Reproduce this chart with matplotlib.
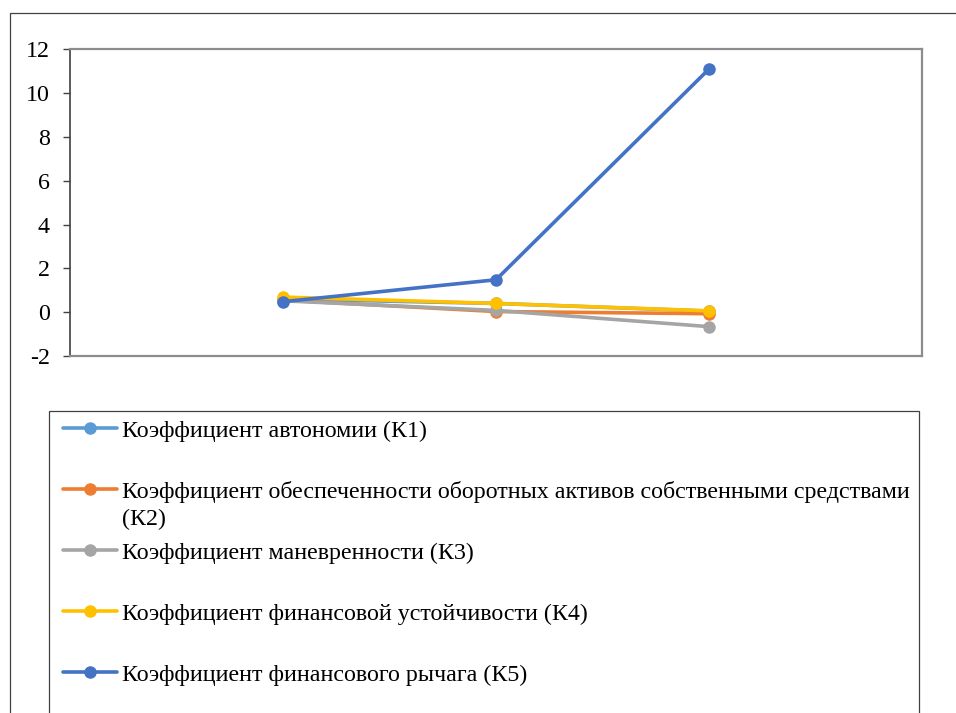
import matplotlib.pyplot as plt
from matplotlib.lines import Line2D
from matplotlib.patches import Rectangle

plt.rcParams['font.family'] = ['Liberation Serif', 'DejaVu Serif']
plt.rcParams['axes.unicode_minus'] = False

# three reporting periods, plotted at category positions 1..3
periods = [1, 2, 3]

k1 = [0.60, 0.40, 0.05]
k2 = [0.55, 0.03, -0.07]
k3 = [0.52, 0.08, -0.66]
k4 = [0.69, 0.40, 0.06]
k5 = [0.48, 1.48, 11.1]

labels = [
    "Коэффициент автономии (К1)",
    "Коэффициент обеспеченности оборотных активов собственными средствами\n(К2)",
    "Коэффициент маневренности (К3)",
    "Коэффициент финансовой устойчивости (К4)",
    "Коэффициент финансового рычага (К5)",
]
colors = ["#5B9BD5", "#ED7D31", "#A5A5A5", "#FFC000", "#4472C4"]
series = [k1, k2, k3, k4, k5]

W, H = 956, 713
FS = 17.3
LW = 2.6
MS = 8

fig = plt.figure(figsize=(W / 100, H / 100), dpi=100)

# outer chart frame (runs off the right and bottom edges)
fig.add_artist(Rectangle((10 / W, -0.1), 1.2, 1 - 12.7 / H + 0.1,
                         transform=fig.transFigure, fill=False,
                         edgecolor="#404040", linewidth=0.9))

ax = fig.add_axes([70 / W, 1 - 356 / H, (922 - 70) / W, (356 - 49.3) / H])

for vals, c in zip(series, colors):
    ax.plot(periods, vals, color=c, linewidth=LW, marker="o",
            markersize=MS, solid_capstyle="round")

ax.set_xlim(0, 4)
ax.set_ylim(-2, 12)
ax.set_yticks(range(-2, 13, 2))
ax.set_xticks([])
for s in ax.spines.values():
    s.set_color("#8c8c8c")
    s.set_linewidth(1.6)
ax.spines["left"].set_color("#404040")
ax.spines["left"].set_linewidth(1.2)
ax.tick_params(axis="y", length=5, width=1, color="#404040",
               labelsize=FS, pad=9.5)

# legend box, drawn by hand so it can run past the bottom edge
lx0, lx1, ltop = 49, 919, 411
fig.add_artist(Rectangle((lx0 / W, -0.1), (lx1 - lx0) / W, 1 - ltop / H + 0.1,
                         transform=fig.transFigure, fill=False,
                         edgecolor="#404040", linewidth=0.9))
for i, (lab, c) in enumerate(zip(labels, colors)):
    y = 1 - (428 + 61 * i) / H
    fig.add_artist(Line2D([63 / W, 90 / W, 117 / W], [y, y, y],
                          transform=fig.transFigure, color=c, linewidth=LW,
                          marker="o", markevery=[1], markersize=MS,
                          solid_capstyle="round"))
    # wrapped labels continue on the next line, 27 px lower
    for j, part in enumerate(lab.split("\n")):
        fig.text(122 / W, y - (9 + 27 * j) / H, part, fontsize=FS,
                 va="baseline", ha="left")

fig.savefig("out.png", dpi=100)
